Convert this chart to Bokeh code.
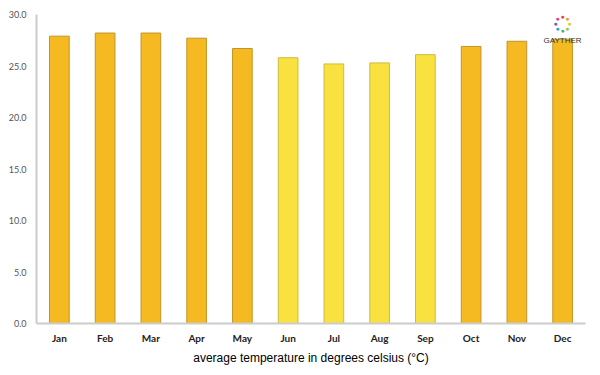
import math
from bokeh.plotting import figure
from bokeh.models import FixedTicker, NumeralTickFormatter, Range1d, ColumnDataSource, Label
from bokeh.embed import file_html
from bokeh.resources import INLINE

months = ["Jan", "Feb", "Mar", "Apr", "May", "Jun", "Jul", "Aug", "Sep", "Oct", "Nov", "Dec"]
temps = [27.9, 28.2, 28.2, 27.7, 26.7, 25.8, 25.2, 25.3, 26.1, 26.9, 27.4, 27.6]
warm = [True, True, True, True, True, False, False, False, False, True, True, True]
y_ticks = [0, 5, 10, 15, 20, 25, 30]

fills = ["#F5B921" if w else "#F9E240" for w in warm]
lines = ["#C0952A" if w else "#CDBB3A" for w in warm]
src = ColumnDataSource(dict(m=months, t=temps, fill=fills, line=lines))

p = figure(x_range=months, y_range=Range1d(0, 30), frame_width=549, frame_height=309,
           min_border_left=36, min_border_top=14, min_border_right=1, min_border_bottom=34,
           output_backend="svg", toolbar_location=None)
p.vbar(x="m", top="t", width=0.43, source=src, fill_color="fill", line_color="line", line_width=1)

p.xgrid.visible = False
p.ygrid.visible = False
p.outline_line_color = None

p.yaxis.ticker = FixedTicker(ticks=y_ticks)
p.yaxis.formatter = NumeralTickFormatter(format="0.0")
for ax in (p.xaxis, p.yaxis):
    ax.axis_line_color = "#cccccc"
    ax.axis_line_width = 2
    ax.major_tick_line_color = None
    ax.minor_tick_line_color = None
    ax.major_label_text_font = "Lato"
p.yaxis.major_label_text_font_size = "9px"
p.yaxis.major_label_text_color = "#555555"
p.yaxis.major_label_standoff = 4
p.xaxis.major_label_text_font_size = "10px"
p.xaxis.major_label_text_font_style = "bold"
p.xaxis.major_label_text_color = "#222222"
p.xaxis.major_label_standoff = 2
p.xaxis.axis_label = "average temperature in degrees celsius (°C)"
p.xaxis.axis_label_text_font = "Liberation Sans"
p.xaxis.axis_label_text_font_style = "normal"
p.xaxis.axis_label_text_font_size = "12px"
p.xaxis.axis_label_text_color = "#000000"
p.xaxis.axis_label_standoff = 4

# logo (decoration): ring of coloured dots + wordmark
logo_colors = ["#E8413C", "#F39A2B", "#F5C422", "#9BC63B", "#3FB57A", "#2E9FD6", "#6C5BB5", "#D6408F"]
cx, cy, r = 526, 300, 7
for i, c in enumerate(logo_colors):
    a = math.pi / 2 - i * 2 * math.pi / len(logo_colors)
    p.add_layout(Label(x=cx + r * math.cos(a), y=cy + r * math.sin(a), x_units="screen", y_units="screen",
                       text="●", text_font_size="7px", text_color=c, text_align="center",
                       text_baseline="middle"))
p.add_layout(Label(x=526, y=283, x_units="screen", y_units="screen", text="GAYTHER",
                   text_font_size="8px", text_color="#333333", text_align="center",
                   text_baseline="middle", text_font="Liberation Sans"))

open("out.html", "w").write(file_html(p, INLINE))
